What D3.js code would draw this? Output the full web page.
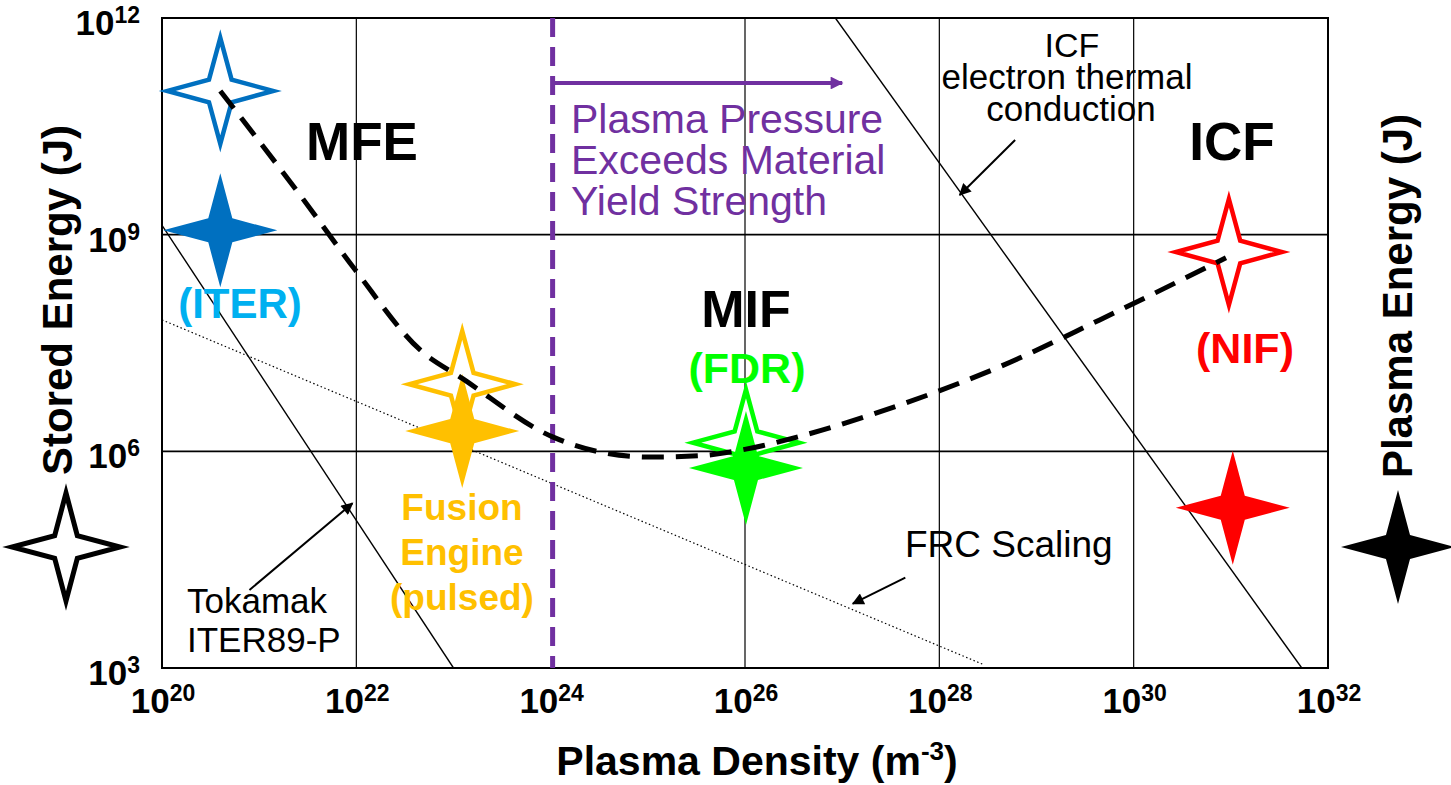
<!DOCTYPE html>
<html>
<head>
<meta charset="utf-8">
<script src="https://cdn.jsdelivr.net/npm/d3@7"></script>
<style>
  html, body { margin: 0; padding: 0; background: #fff; }
  svg { display: block; font-family: "Liberation Sans", Arial, Helvetica, sans-serif; }
</style>
</head>
<body>
<svg id="chart" width="1451" height="785"></svg>
<script>
// Axis ranges and ticks (powers of ten)
const densityExpDomain = [20, 32];
const energyExpDomain = [3, 12];
const densityTickExps = [20, 22, 24, 26, 28, 30, 32];
const energyTickExps = [3, 6, 9, 12];
const densityGridExps = [22, 26, 28, 30];
const energyGridExps = [6, 9];

// Minimum-energy curve across regimes (log10 density, log10 energy)
const curveDensityExp = [20.60, 21.42, 21.99, 22.66, 23.09, 24.02, 24.51, 25.02, 25.54, 26.01, 26.57, 27.59, 28.62, 29.65, 30.95];
const curveEnergyExp  = [10.99, 9.55, 8.51, 7.40, 7.01, 6.20, 5.99, 5.92, 5.94, 6.03, 6.21, 6.64, 7.17, 7.82, 8.68];

// Scaling lines (endpoints as log10 density, log10 energy)
const tokamakLine = [[20.0, 9.13], [23.0, 3.0]];
const icfLine     = [[26.93, 12.0], [31.73, 3.0]];
const frcLine     = [[20.0, 7.82], [28.45, 3.05]];

// Material yield strength boundary (log10 density)
const yieldDensityExp = 24.02;

// Devices: stored energy (open star) and plasma energy (filled star)
const deviceNames   = ["ITER", "Fusion Engine", "FDR", "NIF"];
const deviceColors  = ["#0070C0", "#FFC000", "#00FF00", "#FF0000"];
const deviceDensity = [20.60, 23.09, 26.01, 30.98];
const storedEnergy  = [10.99, 6.93, 6.12, 8.76];
const plasmaDensity = [20.60, 23.09, 26.01, 31.02];
const plasmaEnergy  = [9.06, 6.28, 5.77, 5.22];

const svg = d3.select("#chart");
const W = 1451, H = 785;
const m = { left: 162, right: 123, top: 18, bottom: 117 };

const x = d3.scaleLog().domain(densityExpDomain.map(e => 10 ** e)).range([m.left, W - m.right]);
const y = d3.scaleLog().domain(energyExpDomain.map(e => 10 ** e)).range([H - m.bottom, m.top]);
const px = e => x(10 ** e);
const py = e => y(10 ** e);

// Arrow heads
const defs = svg.append("defs");
defs.append("marker").attr("id", "headBlack")
  .attr("viewBox", "0 0 10 10").attr("refX", 9).attr("refY", 5)
  .attr("markerWidth", 7).attr("markerHeight", 6).attr("markerUnits", "strokeWidth")
  .attr("orient", "auto")
  .append("path").attr("d", "M0,0 L10,5 L0,10 Z").attr("fill", "#000");
defs.append("marker").attr("id", "headPurple")
  .attr("viewBox", "0 0 10 10").attr("refX", 9).attr("refY", 5)
  .attr("markerWidth", 4.5).attr("markerHeight", 3.2).attr("markerUnits", "strokeWidth")
  .attr("orient", "auto")
  .append("path").attr("d", "M0,0 L10,5 L0,10 Z").attr("fill", "#7030A0");

const plot = svg.append("g");

// Grid
plot.selectAll("line.vgrid").data(densityGridExps).join("line")
  .attr("x1", d => px(d)).attr("x2", d => px(d))
  .attr("y1", m.top).attr("y2", H - m.bottom)
  .attr("stroke", "#000").attr("stroke-width", 1.2);
plot.selectAll("line.hgrid").data(energyGridExps).join("line")
  .attr("y1", d => py(d)).attr("y2", d => py(d))
  .attr("x1", m.left).attr("x2", W - m.right)
  .attr("stroke", "#000").attr("stroke-width", 1.6);

// Frame
plot.append("rect")
  .attr("x", m.left).attr("y", m.top)
  .attr("width", W - m.left - m.right).attr("height", H - m.top - m.bottom)
  .attr("fill", "none").attr("stroke", "#000").attr("stroke-width", 2);

// Clip for lines inside the plot area
defs.append("clipPath").attr("id", "plotClip").append("rect")
  .attr("x", m.left).attr("y", m.top)
  .attr("width", W - m.left - m.right).attr("height", H - m.top - m.bottom);

const lineGen = d3.line().x(d => px(d[0])).y(d => py(d[1]));
const lines = plot.append("g").attr("clip-path", "url(#plotClip)");
lines.append("path").attr("d", lineGen(tokamakLine))
  .attr("fill", "none").attr("stroke", "#000").attr("stroke-width", 1.4);
lines.append("path").attr("d", lineGen(icfLine))
  .attr("fill", "none").attr("stroke", "#000").attr("stroke-width", 1.4);
lines.append("path").attr("d", lineGen(frcLine))
  .attr("fill", "none").attr("stroke", "#000").attr("stroke-width", 1.2)
  .attr("stroke-dasharray", "1.5,2.5");

// Yield strength boundary
plot.append("line")
  .attr("x1", px(yieldDensityExp)).attr("x2", px(yieldDensityExp))
  .attr("y1", m.top).attr("y2", H - m.bottom)
  .attr("stroke", "#7030A0").attr("stroke-width", 5)
  .attr("stroke-dasharray", "19,10");
plot.append("line")
  .attr("x1", px(yieldDensityExp) + 2).attr("x2", px(27.0))
  .attr("y1", py(11.10)).attr("y2", py(11.10))
  .attr("stroke", "#7030A0").attr("stroke-width", 4)
  .attr("marker-end", "url(#headPurple)");

// Four-pointed star
function starPath(cx, cy, R, r) {
  const pts = [];
  for (let i = 0; i < 8; i++) {
    const a = -Math.PI / 2 + i * Math.PI / 4;
    const rad = i % 2 === 0 ? R : r;
    pts.push([cx + rad * Math.cos(a), cy + rad * Math.sin(a)]);
  }
  return "M" + pts.map(p => p.join(",")).join("L") + "Z";
}

const devices = deviceNames.map((name, i) => ({
  name, color: deviceColors[i],
  sx: deviceDensity[i], sy: storedEnergy[i],
  fx: plasmaDensity[i], fy: plasmaEnergy[i]
}));

const starsG = plot.append("g");
devices.forEach(d => {
  starsG.append("path").attr("d", starPath(px(d.sx), py(d.sy), 53, 16))
    .attr("fill", "#fff").attr("stroke", d.color).attr("stroke-width", 4.5)
    .attr("stroke-linejoin", "miter");
  starsG.append("path").attr("d", starPath(px(d.fx), py(d.fy), 57, 17))
    .attr("fill", d.color);
});

// Minimum energy curve
const curvePts = curveDensityExp.map((d, i) => [d, curveEnergyExp[i]]);
plot.append("path")
  .attr("d", d3.line().x(d => px(d[0])).y(d => py(d[1])).curve(d3.curveMonotoneX)(curvePts))
  .attr("fill", "none").attr("stroke", "#000").attr("stroke-width", 5)
  .attr("stroke-dasharray", "22,12");

// Annotation arrows
function arrow(from, to) {
  plot.append("line")
    .attr("x1", px(from[0])).attr("y1", py(from[1]))
    .attr("x2", px(to[0])).attr("y2", py(to[1]))
    .attr("stroke", "#000").attr("stroke-width", 2)
    .attr("marker-end", "url(#headBlack)");
}
arrow([20.90, 4.08], [21.96, 5.28]);
arrow([28.78, 10.31], [28.21, 9.55]);
arrow([27.65, 4.25], [27.11, 3.89]);

// Text helpers
function label(txt, xPos, yPos, opts = {}) {
  return svg.append("text")
    .attr("x", xPos).attr("y", yPos)
    .attr("text-anchor", opts.anchor || "middle")
    .attr("font-size", opts.size || 30)
    .attr("font-weight", opts.weight || "normal")
    .attr("fill", opts.color || "#000")
    .text(txt);
}

// Region labels
label("MFE", 362, 160, { size: 53, weight: "bold" });
label("ICF", 1232, 160, { size: 53, weight: "bold" });
label("MIF", 746, 327, { size: 52, weight: "bold" });
label("(FDR)", 747, 383, { size: 43, weight: "bold", color: "#00FF00" });
label("(ITER)", 240, 318, { size: 42, weight: "bold", color: "#00B0F0" });
label("(NIF)", 1245, 363, { size: 43, weight: "bold", color: "#FF0000" });
["Fusion", "Engine", "(pulsed)"].forEach((t, i) =>
  label(t, 462, 520 + i * 45, { size: 37, weight: "bold", color: "#FFC000" }));

// Yield strength note
["Plasma Pressure", "Exceeds Material", "Yield Strength"].forEach((t, i) =>
  label(t, 571, 133 + i * 41, { size: 41, anchor: "start", color: "#7030A0" }));

// Scaling line captions
label("ICF", 1072, 57, { size: 34 });
label("electron thermal", 1067, 89, { size: 35 });
label("conduction", 1071, 121, { size: 35 });
label("FRC Scaling", 905, 557, { size: 37, anchor: "start" });
label("Tokamak", 187, 613, { size: 35, anchor: "start" });
label("ITER89-P", 187, 652, { size: 35, anchor: "start" });

// Power-of-ten tick labels
function pow10(g, exp, xPos, yPos, anchor) {
  const t = g.append("text").attr("x", xPos).attr("y", yPos)
    .attr("text-anchor", anchor).attr("font-weight", "bold").attr("font-size", 35);
  t.append("tspan").text("10");
  t.append("tspan").attr("font-size", 23).attr("dy", -12).text(String(exp));
}
const axes = svg.append("g");
densityTickExps.forEach(e => pow10(axes, e, px(e) + 1, H - m.bottom + 45, "middle"));
energyTickExps.forEach(e => pow10(axes, e, m.left - 22, py(e) + 17, "end"));

// Axis titles
const xt = svg.append("text").attr("x", 757).attr("y", 775)
  .attr("text-anchor", "middle").attr("font-weight", "bold").attr("font-size", 41);
xt.append("tspan").text("Plasma Density (m");
xt.append("tspan").attr("font-size", 26).attr("dy", -15).text("-3");
xt.append("tspan").attr("dy", 15).text(")");

svg.append("text").attr("transform", "translate(72,300) rotate(-90)")
  .attr("text-anchor", "middle").attr("font-weight", "bold").attr("font-size", 42)
  .text("Stored Energy (J)");
svg.append("text").attr("transform", "translate(1412,296) rotate(-90)")
  .attr("text-anchor", "middle").attr("font-weight", "bold").attr("font-size", 42)
  .text("Plasma Energy (J)");

// Legend stars
svg.append("path").attr("d", starPath(66, 547, 54, 16))
  .attr("fill", "#fff").attr("stroke", "#000").attr("stroke-width", 5);
svg.append("path").attr("d", starPath(1398, 547, 57, 17)).attr("fill", "#000");
</script>
</body>
</html>
